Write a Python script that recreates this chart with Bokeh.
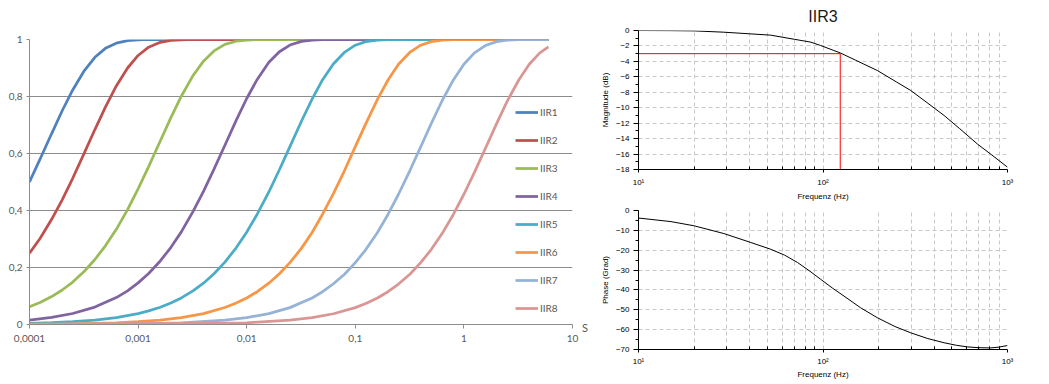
from bokeh.plotting import figure
from bokeh.models import Range1d, FixedTicker, Label
from bokeh.layouts import row, column
from bokeh.embed import file_html
from bokeh.resources import INLINE

# ---------------- step responses (left chart) ----------------
series_names = ["IIR1", "IIR2", "IIR3", "IIR4", "IIR5", "IIR6", "IIR7", "IIR8"]
series_colors = ["#4F81BD", "#C0504D", "#9BBB59", "#8064A2", "#4BACC6", "#F79646", "#95B3D7", "#D99694"]

t_iir1 = [1e-4, 1.25e-4, 1.6e-4, 2e-4, 2.5e-4, 3.2e-4, 4e-4, 5e-4, 6.3e-4, 8e-4, 1e-3, 1.25e-3, 1.6e-3, 6.0]
y_iir1 = [0.5, 0.580, 0.670, 0.75, 0.823, 0.891, 0.9375, 0.969, 0.987, 0.996, 0.999, 1.0, 1.0, 1.0]

t_iir2 = [1e-4, 1.25e-4, 1.6e-4, 2e-4, 2.5e-4, 3.2e-4, 4e-4, 5e-4, 6.3e-4, 8e-4, 1e-3, 1.25e-3,
          1.6e-3, 2e-3, 2.5e-3, 3.2e-3, 6.0]
y_iir2 = [0.25, 0.302, 0.369, 0.4375, 0.513, 0.602, 0.684, 0.763, 0.837, 0.900, 0.944, 0.973,
          0.990, 0.997, 0.999, 1.0, 1.0]

t_iir3 = [1e-4, 1.25e-4, 1.6e-4, 2e-4, 2.5e-4, 3.2e-4, 4e-4, 5e-4, 6.3e-4, 8e-4, 1e-3, 1.25e-3,
          1.6e-3, 2e-3, 2.5e-3, 3.2e-3, 4e-3, 5e-3, 6.3e-3, 8e-3, 1e-2, 1.25e-2, 1.6e-2, 6.0]
y_iir3 = [0.0625, 0.0775, 0.098, 0.121, 0.149, 0.187, 0.228, 0.276, 0.334, 0.403, 0.476, 0.554,
          0.644, 0.725, 0.801, 0.873, 0.924, 0.960, 0.983, 0.994, 0.998, 0.9997, 1.0, 1.0]

t_iir4 = [1e-4, 1.6e-4, 2.5e-4, 4e-4, 6.3e-4, 8e-4, 1e-3, 1.25e-3, 1.6e-3, 2e-3, 2.5e-3, 3.2e-3,
          4e-3, 5e-3, 6.3e-3, 8e-3, 1e-2, 1.25e-2, 1.6e-2, 2e-2, 2.5e-2, 3.2e-2, 4e-2, 5e-2, 6.3e-2, 6.0]
y_iir4 = [0.0156, 0.0249, 0.0386, 0.061, 0.0944, 0.118, 0.146, 0.179, 0.223, 0.270, 0.325, 0.396,
          0.467, 0.545, 0.629, 0.716, 0.793, 0.860, 0.920, 0.957, 0.9805, 0.9935, 0.998, 0.9996, 1.0, 1.0]

t_iir5 = [1e-4, 1.6e-4, 2.5e-4, 4e-4, 6.3e-4, 1e-3, 1.25e-3, 1.6e-3, 2e-3, 2.5e-3, 3.2e-3, 4e-3,
          5e-3, 6.3e-3, 8e-3, 1e-2, 1.25e-2, 1.6e-2, 2e-2, 2.5e-2, 3.2e-2, 4e-2, 5e-2, 6.3e-2,
          8e-2, 0.1, 0.125, 0.16, 0.2, 0.25, 6.0]
y_iir5 = [0.0039, 0.0062, 0.0097, 0.0155, 0.0244, 0.0384, 0.0477, 0.0607, 0.0753, 0.0932, 0.118, 0.145,
          0.178, 0.219, 0.269, 0.324, 0.387, 0.465, 0.543, 0.624, 0.714, 0.791, 0.859, 0.915,
          0.956, 0.980, 0.9925, 0.998, 0.9996, 1.0, 1.0]

t_iir6 = [1e-4, 2.5e-4, 6.3e-4, 1e-3, 1.6e-3, 2.5e-3, 4e-3, 6.3e-3, 8e-3, 1e-2, 1.25e-2, 1.6e-2,
          2e-2, 2.5e-2, 3.2e-2, 4e-2, 5e-2, 6.3e-2, 8e-2, 0.1, 0.125, 0.16, 0.2, 0.25, 0.32, 0.4,
          0.5, 0.63, 0.8, 1.0, 6.0]
y_iir6 = [0.001, 0.0024, 0.0061, 0.0097, 0.0155, 0.0241, 0.0383, 0.0597, 0.0752, 0.0931, 0.115, 0.145,
          0.178, 0.217, 0.268, 0.323, 0.387, 0.460, 0.542, 0.624, 0.705, 0.790, 0.858, 0.913, 0.956, 0.980,
          0.9924, 0.998, 0.9996, 1.0, 1.0]

t_iir7 = [1e-4, 1e-3, 2.5e-3, 6.3e-3, 1e-2, 1.6e-2, 2.5e-2, 4e-2, 5e-2, 6.3e-2, 8e-2, 0.1, 0.125,
          0.16, 0.2, 0.25, 0.32, 0.4, 0.5, 0.63, 0.8, 1.0, 1.25, 1.6, 2.0, 2.5, 3.2, 4.0, 6.0]
y_iir7 = [0.0002, 0.0024, 0.0061, 0.0153, 0.0241, 0.0383, 0.0592, 0.093, 0.115, 0.143, 0.177, 0.217, 0.263,
          0.323, 0.386, 0.457, 0.542, 0.623, 0.705, 0.785, 0.858, 0.913, 0.953, 0.980, 0.9924, 0.998, 0.9996,
          1.0, 1.0]

t_iir8 = [1e-4, 1e-2, 2.5e-2, 4e-2, 6.3e-2, 0.1, 0.125, 0.16, 0.2, 0.25, 0.32, 0.4, 0.5, 0.63,
          0.8, 1.0, 1.25, 1.6, 2.0, 2.5, 3.2, 4.0, 5.0, 6.0]
y_iir8 = [0.00006, 0.0061, 0.0151, 0.0241, 0.0377, 0.0592, 0.0735, 0.093, 0.115, 0.142, 0.177, 0.217, 0.263, 0.319,
          0.386, 0.457, 0.534, 0.623, 0.705, 0.783, 0.858, 0.913, 0.953, 0.974]

step_t = [t_iir1, t_iir2, t_iir3, t_iir4, t_iir5, t_iir6, t_iir7, t_iir8]
step_y = [y_iir1, y_iir2, y_iir3, y_iir4, y_iir5, y_iir6, y_iir7, y_iir8]

time_ticks = [1e-4, 1e-3, 1e-2, 1e-1, 1.0, 10.0]
time_tick_labels = ["0,0001", "0,001", "0,01", "0,1", "1", "10"]
value_ticks = [0.0, 0.2, 0.4, 0.6, 0.8, 1.0]
value_tick_labels = ["0", "0,2", "0,4", "0,6", "0,8", "1"]
time_unit = "S"

# ---------------- Bode plot of IIR3 (right) ----------------
bode_title = "IIR3"
freq_mag = [10, 15, 20, 29, 40, 52, 70, 86, 97, 124, 150, 197, 250, 299, 370, 453, 550, 687, 820, 1000]
mag_db = [0.0, -0.02, -0.05, -0.22, -0.43, -0.6, -1.14, -1.51, -1.94, -2.9, -3.84, -5.18, -6.66, -7.77,
          -9.42, -11.0, -12.7, -14.7, -16.1, -17.7]
freq_phase = [10, 15, 20, 29, 40.6, 52, 62, 72.8, 85, 97, 113, 130, 160, 197, 245, 299, 370, 453, 530,
              607, 700, 811, 900, 1000]
phase_deg = [-3.8, -5.6, -7.7, -11.6, -16.1, -19.5, -22.5, -26.2, -30.6, -34.6, -39.2, -43.1, -49.0, -54.0,
             -58.4, -61.6, -64.5, -66.6, -67.9, -68.7, -69.1, -69.2, -68.8, -68.0]
cutoff_hz = 124
cutoff_db = -3

freq_decades = [10, 100, 1000]
freq_decade_labels = ["10\u00b9", "10\u00b2", "10\u00b3"]
freq_minor = [20, 30, 40, 50, 60, 70, 80, 90, 200, 300, 400, 500, 600, 700, 800, 900]
mag_ticks = [0, -2, -4, -6, -8, -10, -12, -14, -16, -18]
mag_minor = [-1, -3, -5, -7, -9, -11, -13, -15, -17]
phase_ticks = [0, -10, -20, -30, -40, -50, -60, -70]
phase_minor = [-5, -15, -25, -35, -45, -55, -65]

# ================= left figure =================
XL_FONT = "Lato"
XL_TEXT = "#595959"
GRID = "#8c8c8c"
H = 383

p1 = figure(width=579, height=H, x_axis_type="log",
            x_range=Range1d(time_ticks[0], time_ticks[-1]),
            y_range=Range1d(value_ticks[0], value_ticks[-1]),
            output_backend="svg", toolbar_location=None,
            min_border_left=29, min_border_right=7, min_border_top=39, min_border_bottom=H - 324)
p1.outline_line_color = None
p1.xgrid.visible = False
p1.ygrid.grid_line_color = GRID
p1.ygrid.grid_line_width = 1

for ax in (p1.xaxis[0], p1.yaxis[0]):
    ax.axis_line_color = GRID
    ax.major_tick_line_color = GRID
    ax.minor_tick_line_color = None
    ax.major_tick_in = 0
    ax.major_label_text_font = XL_FONT
    ax.major_label_text_font_size = "10px"
    ax.major_label_text_color = XL_TEXT

p1.xaxis.ticker = FixedTicker(ticks=time_ticks, minor_ticks=[])
p1.xaxis.major_label_overrides = dict(zip(time_ticks, time_tick_labels))
p1.xaxis.major_tick_out = 4
p1.xaxis.major_label_standoff = 6
p1.yaxis.ticker = FixedTicker(ticks=value_ticks, minor_ticks=[])
p1.yaxis.major_label_overrides = dict(zip(value_ticks, value_tick_labels))
p1.yaxis.major_tick_out = 3
p1.yaxis.major_label_standoff = 4

for name, color, tt, yy in zip(series_names, series_colors, step_t, step_y):
    p1.line(tt, yy, line_color=color, line_width=2.75, legend_label=name)

lg = p1.legend[0]
lg.location = (486, 9)
lg.padding = 0
lg.margin = 0
lg.spacing = 14
lg.glyph_width = 23
lg.glyph_height = 14
lg.label_height = 14
lg.label_standoff = 2
lg.label_text_font = XL_FONT
lg.label_text_font_size = "10px"
lg.label_text_color = XL_TEXT
lg.background_fill_alpha = 0
lg.border_line_alpha = 0

# small strip to the right of the x axis that holds the unit "S"
p_unit = figure(width=11, height=H, x_range=Range1d(0, 1), y_range=Range1d(0, 1),
                output_backend="svg", toolbar_location=None,
                x_axis_location=None, y_axis_location=None,
                min_border_left=0, min_border_right=0, min_border_top=316, min_border_bottom=H - 336)
p_unit.outline_line_color = None
p_unit.grid.visible = False
p_unit.add_layout(Label(x=0.5, y=0.47, text=time_unit, text_align="center", text_baseline="middle",
                        text_font=XL_FONT, text_font_size="11px", text_color=XL_TEXT))

# ================= Bode figures =================
SC_FONT = "Liberation Sans"
DASH_GRID = "#c8c8c8"
BW = 458


def bode_figure(height, border_top, border_bottom, ylo, yhi, yticks, yminor, ylabel):
    p = figure(width=BW, height=height, x_axis_type="log",
               x_range=Range1d(freq_decades[0], freq_decades[-1]), y_range=Range1d(ylo, yhi),
               output_backend="svg", toolbar_location=None,
               min_border_left=48, min_border_right=BW - 48 - 369,
               min_border_top=border_top, min_border_bottom=border_bottom)
    p.outline_line_color = None
    p.xaxis.ticker = FixedTicker(ticks=freq_decades, minor_ticks=freq_minor)
    p.xaxis.major_label_overrides = dict(zip(freq_decades, freq_decade_labels))
    p.yaxis.ticker = FixedTicker(ticks=yticks, minor_ticks=yminor)
    for ax in (p.xaxis[0], p.yaxis[0]):
        ax.axis_line_color = "black"
        ax.major_tick_line_color = "black"
        ax.minor_tick_line_color = "black"
        ax.major_label_text_font = SC_FONT
        ax.major_label_text_font_size = "8px"
        ax.major_label_text_color = "black"
        ax.axis_label_text_font = SC_FONT
        ax.axis_label_text_font_size = "8px"
        ax.axis_label_text_font_style = "normal"
        ax.axis_label_text_color = "black"
    p.xaxis.major_tick_out = 3
    p.xaxis.major_tick_in = 0
    p.xaxis.minor_tick_in = 3
    p.xaxis.minor_tick_out = 0
    p.yaxis.major_tick_out = 5
    p.yaxis.major_tick_in = 0
    p.yaxis.minor_tick_out = 3
    p.yaxis.minor_tick_in = 0
    p.xaxis.axis_label = "Frequenz (Hz)"
    p.yaxis.axis_label = ylabel
    p.yaxis.major_label_standoff = 4
    p.yaxis.axis_label_standoff = 3
    p.xgrid.grid_line_color = DASH_GRID
    p.xgrid.grid_line_dash = "4 3"
    p.xgrid.minor_grid_line_color = DASH_GRID
    p.xgrid.minor_grid_line_dash = "4 3"
    p.ygrid.grid_line_color = DASH_GRID
    p.ygrid.grid_line_dash = "4 3"
    return p


MAG_H = 204
p_mag = bode_figure(MAG_H, 30, MAG_H - 30 - 139, mag_ticks[-1], mag_ticks[0], mag_ticks, mag_minor,
                    "Magnitude (dB)")
p_mag.xaxis.major_label_standoff = 5
p_mag.xaxis.axis_label_standoff = 2
p_mag.title.text = bode_title
p_mag.title.align = "center"
p_mag.title.vertical_align = "middle"
p_mag.title.text_font = SC_FONT
p_mag.title.text_font_size = "16px"
p_mag.title.text_font_style = "normal"
p_mag.title.text_color = "#1a1a1a"
p_mag.title.standoff = 10
p_mag.line([freq_mag[0], cutoff_hz], [cutoff_db, cutoff_db], line_color="#ff0000", line_width=1)
p_mag.line([cutoff_hz, cutoff_hz], [cutoff_db, mag_ticks[-1]], line_color="#ff0000", line_width=1)
p_mag.line(freq_mag, mag_db, line_color="black", line_width=1)

PH_H = H - MAG_H
p_ph = bode_figure(PH_H, 6, PH_H - 6 - 139, phase_ticks[-1], phase_ticks[0], phase_ticks, phase_minor,
                   "Phase (Grad)")
p_ph.xaxis.major_label_standoff = 4
p_ph.xaxis.axis_label_standoff = 1
p_ph.line(freq_phase, phase_deg, line_color="black", line_width=1)

layout = row(p1, column(p_unit), column(p_mag, p_ph))

with open("out.html", "w") as f:
    f.write(file_html(layout, INLINE))
